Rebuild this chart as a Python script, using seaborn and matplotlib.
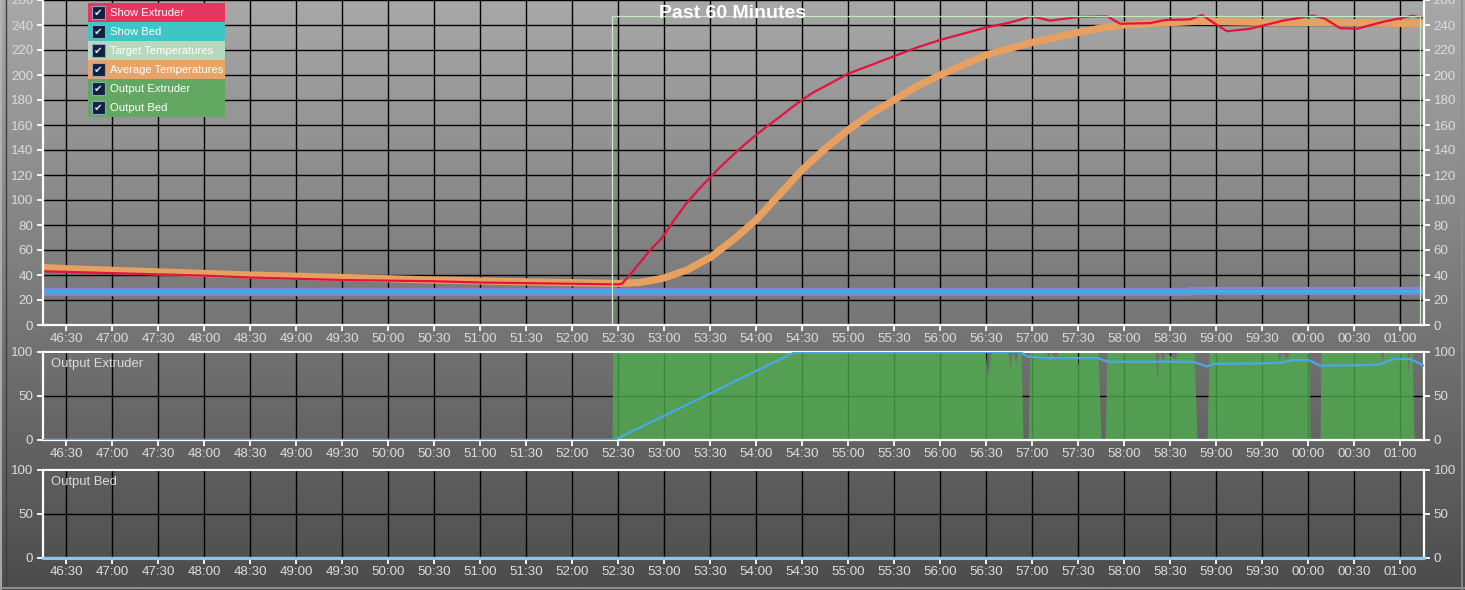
import numpy as np
import pandas as pd
import matplotlib
matplotlib.use("Agg")
import matplotlib.pyplot as plt
from matplotlib.patches import Rectangle
import seaborn as sns

# ---- time axis (minutes, continuing past the hour) ----
t_start, t_end = 46.25, 61.26
tick_pos = np.arange(46.5, 61.01, 0.5)
tick_labels = ["46:30", "47:00", "47:30", "48:00", "48:30", "49:00", "49:30", "50:00",
               "50:30", "51:00", "51:30", "52:00", "52:30", "53:00", "53:30", "54:00",
               "54:30", "55:00", "55:30", "56:00", "56:30", "57:00", "57:30", "58:00",
               "58:30", "59:00", "59:30", "00:00", "00:30", "01:00"]

# ---- extruder temperature ----
ext_time = [46.25, 46.5, 47.0, 47.5, 48.0, 48.5, 49.0, 49.5, 50.0, 50.5, 51.0, 51.5, 52.0,
            52.5, 52.543, 52.65, 52.739, 52.85, 52.957, 53.0, 53.12, 53.239, 53.37, 53.5,
            53.62, 53.75, 53.87, 54.0, 54.12, 54.25, 54.37, 54.5, 54.62,
            54.75, 55.0, 55.25, 55.5, 55.75, 56.0, 56.25, 56.5, 56.76, 57.0, 57.196,
            57.511, 57.815, 57.957, 58.283, 58.446, 58.717, 58.848, 58.989, 59.12, 59.37,
            59.728, 60.054, 60.185, 60.348, 60.533, 60.815, 61.141, 61.26]
ext_temp = [43, 42.5, 41.5, 40.5, 39.5, 38, 37, 36, 35.5, 35, 34, 33.5, 33,
            32.5, 33, 42, 50, 60, 68, 72, 85, 97, 108, 118,
            127, 136, 144, 152, 159, 166, 173, 180, 186,
            191, 201, 208, 215, 222, 228, 233, 238, 242, 247, 243.5,
            246.5, 247, 241, 241.5, 244, 244.5, 248, 241, 235, 237,
            243.5, 247.5, 245, 237.5, 237, 242.5, 247.5, 245]

# ---- averaged extruder temperature ----
avg_time = [46.25, 46.5, 47.5, 48.5, 49.5, 50.5, 51.5, 52.5, 52.74, 53.0, 53.25, 53.5,
            53.75, 54.0, 54.25, 54.5, 54.75, 55.0, 55.25, 55.5, 55.75, 56.0, 56.25,
            56.5, 56.75, 57.0, 57.25, 57.5, 57.75, 58.0, 58.4, 58.8, 59.2, 59.6, 60.0,
            60.4, 60.8, 61.26]
avg_temp = [46, 45, 42.5, 40, 38, 36, 34.5, 33.2, 34, 37.6, 44, 54,
            68, 84, 104, 124, 141, 156, 169, 180, 191, 200, 208,
            216, 221, 226, 230, 234, 237.5, 240, 241.5, 243, 242.5, 242, 242,
            242, 241.5, 241]

# ---- target temperature ----
target_time = [46.25, 52.435, 61.217, 61.26]
target_temp = [0, 247, 0, 0]

# ---- bed temperature and its average ----
bed_time = [46.25, 61.26]
bed_temp = [27, 27]
bed_avg_time = [46.25, 58.717, 58.72, 61.26]
bed_avg_temp = [26.3, 26.3, 27.3, 27.3]

# ---- extruder heater output (%) ----
out_time = [46.25, 52.435, 52.44, 56.489, 56.522, 56.554, 56.739, 56.761, 56.783, 56.826,
            56.848, 56.88, 56.902, 56.957, 56.978, 57.152, 57.174, 57.196, 57.261, 57.283,
            57.489, 57.5, 57.511, 57.717, 57.75, 57.793, 57.815, 58.337, 58.359, 58.38,
            58.424, 58.446, 58.554, 58.576, 58.761, 58.793, 58.902, 58.924, 59.663,
            59.685, 59.707, 59.772, 59.793, 60.011, 60.022, 60.13, 60.141, 60.783,
            60.804, 60.826, 61.076, 61.087, 61.109, 61.13, 61.152, 61.26]
out_ext = [0, 0, 100, 100, 72, 100, 100, 82, 100, 88,
           100, 100, 0, 0, 100, 100, 93, 100, 93, 100,
           100, 85, 100, 100, 0, 0, 100, 100, 70, 100,
           90, 100, 92, 100, 100, 0, 0, 100, 100,
           90, 100, 92, 100, 100, 0, 0, 100, 100,
           90, 100, 100, 75, 100, 100, 0, 0]

# ---- smoothed extruder output (%) ----
out_avg_time = [46.25, 52.46, 54.424, 56.87, 56.946, 57.174, 57.717, 57.826, 58.75,
                58.902, 58.967, 59.478, 59.728, 59.837, 60.0, 60.13, 60.598, 60.783,
                60.924, 61.109, 61.26]
out_avg = [0, 0, 100, 100, 95, 93, 93, 89, 89,
           83.5, 86.5, 87, 88, 91, 91, 84.5, 85, 86,
           92, 92, 84.5]

# ---- bed heater output (%) ----
out_bed_time = [46.25, 61.26]
out_bed = [0, 0]

legend_labels = ["Show Extruder", "Show Bed", "Target Temperatures",
                 "Average Temperatures", "Output Extruder", "Output Bed"]
legend_colors = ["#e4365e", "#3ec6c6", "#b6d9bb", "#e8a468", "#62a862", "#62a862"]

# ---------------------------------------------------------------
sns.set_theme(style="white")
plt.rcParams["font.family"] = ["Liberation Sans", "DejaVu Sans"]

W, H = 1465, 590
fig = plt.figure(figsize=(W / 100, H / 100), dpi=100)

# vertical gray gradient behind everything
bg = fig.add_axes([0, 0, 1, 1], zorder=-5)
grad = np.linspace(168, 76, 256)[:, None] / 255.0
bg.imshow(np.dstack([grad, grad, grad]), aspect="auto", extent=[0, 1, 0, 1],
          interpolation="bilinear")
bg.set_axis_off()
# window frame edges
bg.plot([0.001, 0.001], [0, 1], color="#b8b8b8", lw=1.2, transform=bg.transAxes)
bg.plot([0.004, 0.004], [0, 1], color="#3e3e3e", lw=1.0, transform=bg.transAxes)
bg.plot([0, 1], [0.003, 0.003], color="#9a9a9a", lw=1.2, transform=bg.transAxes)
bg.plot([0.998, 0.998], [0, 1], color="#8e8e8e", lw=1.2, transform=bg.transAxes)


def px_box(left, top, right, bottom):
    return [left / W, 1 - bottom / H, (right - left) / W, (bottom - top) / H]


label_color = "#dcdcdc"
grid_color = "#000000"
spine_color = "#ffffff"


def style_axis(ax, yticks, show_top=True):
    ax.set_facecolor("none")
    ax.set_xlim(t_start, t_end)
    ax.set_xticks(tick_pos)
    ax.set_xticklabels(tick_labels)
    ax.set_yticks(yticks)
    ax.grid(True, color=grid_color, lw=1.0)
    ax.set_axisbelow(True)
    ax.tick_params(axis="both", which="both", colors=spine_color, labelcolor=label_color,
                   labelsize=9.6, length=4, width=1.3, direction="out")
    ax.tick_params(axis="x", pad=2)
    ax.tick_params(axis="y", pad=3, left=True, right=True, labelleft=True, labelright=True)
    ax.tick_params(axis="x", bottom=True)
    for side, sp in ax.spines.items():
        sp.set_color(spine_color)
        sp.set_linewidth(1.6)
        sp.set_visible(True)
    ax.spines["top"].set_visible(show_top)
    ax.set_xlabel("")
    ax.set_ylabel("")


# ---- main temperature panel ----
ax = fig.add_axes(px_box(43, 0, 1424, 325))
df_bed_avg = pd.DataFrame({"t": bed_avg_time, "v": bed_avg_temp})
df_bed = pd.DataFrame({"t": bed_time, "v": bed_temp})
df_avg = pd.DataFrame({"t": avg_time, "v": avg_temp})
df_ext = pd.DataFrame({"t": ext_time, "v": ext_temp})
df_tgt = pd.DataFrame({"t": target_time, "v": target_temp})

sns.lineplot(data=df_bed_avg, x="t", y="v", ax=ax, color="#8a82d2", lw=6.0,
             estimator=None, sort=False, drawstyle="steps-post")
sns.lineplot(data=df_bed, x="t", y="v", ax=ax, color="#3cb0e4", lw=2.2,
             estimator=None, sort=False)
sns.lineplot(data=df_avg, x="t", y="v", ax=ax, color="#e8a060", lw=5.2,
             estimator=None, sort=False, solid_capstyle="butt")
sns.lineplot(data=df_ext, x="t", y="v", ax=ax, color="#e4123e", lw=1.6,
             estimator=None, sort=False)
sns.lineplot(data=df_tgt, x="t", y="v", ax=ax, color="#c4e8c0", lw=0.9,
             estimator=None, sort=False, drawstyle="steps-post")
ax.set_ylim(0, 260)
style_axis(ax, np.arange(0, 261, 20), show_top=False)

fig.text(733 / W, 1 - 13 / H, "Past 60 Minutes", ha="center", va="center",
         fontsize=14, fontweight="bold", color="#ffffff", zorder=30)

# legend panel with checkboxes
lx0, ly0, lw_, lh = 88, 3, 137, 19
for i, (lab, col) in enumerate(zip(legend_labels, legend_colors)):
    y_top = ly0 + i * lh
    fig.patches.append(Rectangle((lx0 / W, 1 - (y_top + lh) / H), lw_ / W, lh / H,
                                 transform=fig.transFigure, facecolor=col,
                                 edgecolor="none", zorder=20))
    bx, by, bs = 92, y_top + 3, 13
    fig.patches.append(Rectangle((bx / W, 1 - (by + bs) / H), bs / W, bs / H,
                                 transform=fig.transFigure, facecolor="#14213a",
                                 edgecolor="#8aa4c8", lw=0.8, zorder=21))
    fig.text((bx + bs / 2) / W, 1 - (by + bs / 2) / H, "\u2714", ha="center",
             va="center", fontsize=7.5, color="#cfe6ff", family="DejaVu Sans",
             zorder=22)
    fig.text(110 / W, 1 - (y_top + lh / 2 + 0.5) / H, lab, ha="left", va="center",
             fontsize=8.1, color="#ffffff", zorder=22)

# ---- extruder output panel ----
ax2 = fig.add_axes(px_box(43, 352, 1424, 440))
ax2.fill_between(out_time, 0, out_ext, color="#4fae4f", alpha=0.78, lw=0, zorder=2)
df_oavg = pd.DataFrame({"t": out_avg_time, "v": out_avg})
sns.lineplot(data=df_oavg, x="t", y="v", ax=ax2, color="#4aa8e8", lw=1.6,
             estimator=None, sort=False, zorder=3)
ax2.set_ylim(0, 100)
style_axis(ax2, [0, 50, 100])
ax2.text(0.006, 0.86, "Output Extruder", transform=ax2.transAxes, ha="left", va="center",
         fontsize=9.4, color=label_color)

# ---- bed output panel ----
ax3 = fig.add_axes(px_box(43, 470, 1424, 558))
df_obed = pd.DataFrame({"t": out_bed_time, "v": out_bed})
sns.lineplot(data=df_obed, x="t", y="v", ax=ax3, color="#8cc6f0", lw=2.2,
             estimator=None, sort=False, zorder=3, clip_on=False)
ax3.set_ylim(0, 100)
style_axis(ax3, [0, 50, 100])
ax3.text(0.006, 0.86, "Output Bed", transform=ax3.transAxes, ha="left", va="center",
         fontsize=9.4, color=label_color)

for a in (ax, ax2, ax3):
    leg = a.get_legend()
    if leg is not None:
        leg.remove()

fig.savefig("out.png", dpi=100)
